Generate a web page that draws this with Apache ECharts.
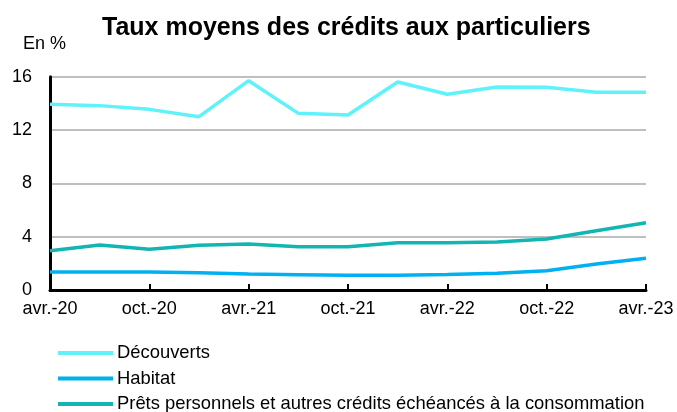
<!DOCTYPE html>
<html><head><meta charset="utf-8">
<script src="https://cdn.jsdelivr.net/npm/echarts@6/dist/echarts.min.js"></script>
<style>html,body{margin:0;padding:0;background:#fff}#c{width:677px;height:412px}</style>
</head><body><div id="c"></div>
<script>
const categories = ['avr.-20','juil.-20','oct.-20','janv.-21','avr.-21','juil.-21','oct.-21','janv.-22','avr.-22','juil.-22','oct.-22','janv.-23','avr.-23'];
const decouverts = [13.93,13.83,13.55,13.0,15.7,13.25,13.13,15.6,14.68,15.23,15.2,14.83,14.83];
const habitat = [1.35,1.35,1.35,1.3,1.2,1.15,1.1,1.1,1.17,1.25,1.45,1.95,2.38];
const prets = [2.95,3.38,3.05,3.35,3.45,3.25,3.25,3.55,3.55,3.6,3.83,4.45,5.05];
const yTicks = [0,4,8,12,16];
const seriesNames = ['Découverts','Habitat','Prêts personnels et autres crédits échéancés à la consommation'];
const colors = ['#5ff2fb','#00b0f0','#13b5b3'];
const FONT = 'Liberation Sans';
const chart = echarts.init(document.getElementById('c'), null, {renderer:'canvas'});
const mk = (name, data, color) => ({name, type:'line', data, symbol:'none', smooth:false,
  lineStyle:{color, width:3.5}, itemStyle:{color}});
const legendTops = [339, 364.5, 390];
chart.setOption({
  animation:false,
  textStyle:{fontFamily:FONT},
  title:{text:'Taux moyens des crédits aux particuliers', left:97, top:11,
    textStyle:{fontFamily:FONT, fontWeight:'bold', fontSize:25, color:'#000'}},
  graphic:[{type:'text', left:23, top:35, style:{text:'En %', font:'18px '+FONT, fill:'#000'}}],
  grid:{left:50, right:31, top:76.7, bottom:122, containLabel:false},
  legend: seriesNames.map((n,i)=>({orient:'vertical', left:53, top:legendTops[i], itemWidth:55, itemHeight:4, icon:'rect',
    textStyle:{fontFamily:FONT, fontSize:18.4, color:'#000', padding:[0,0,0,-1]}, data:[n]})),
  xAxis:{type:'category', data:categories, boundaryGap:false,
    axisLine:{lineStyle:{color:'#000', width:3}},
    axisTick:{inside:true, length:6, interval:1, lineStyle:{color:'#000', width:2}, alignWithLabel:true},
    axisLabel:{interval:1, color:'#000', fontSize:18, fontFamily:FONT, margin:10},
    splitLine:{show:false}},
  yAxis:{type:'value', min:yTicks[0], max:yTicks[yTicks.length-1], interval:4,
    axisLine:{show:true, lineStyle:{color:'#000', width:3}},
    axisTick:{show:false},
    axisLabel:{color:'#000', fontSize:18, fontFamily:FONT, margin:18},
    splitLine:{lineStyle:{color:'#bfbfbf', width:2}}},
  series: [decouverts, habitat, prets].map((d,i)=>mk(seriesNames[i], d, colors[i]))
});
</script></body></html>
